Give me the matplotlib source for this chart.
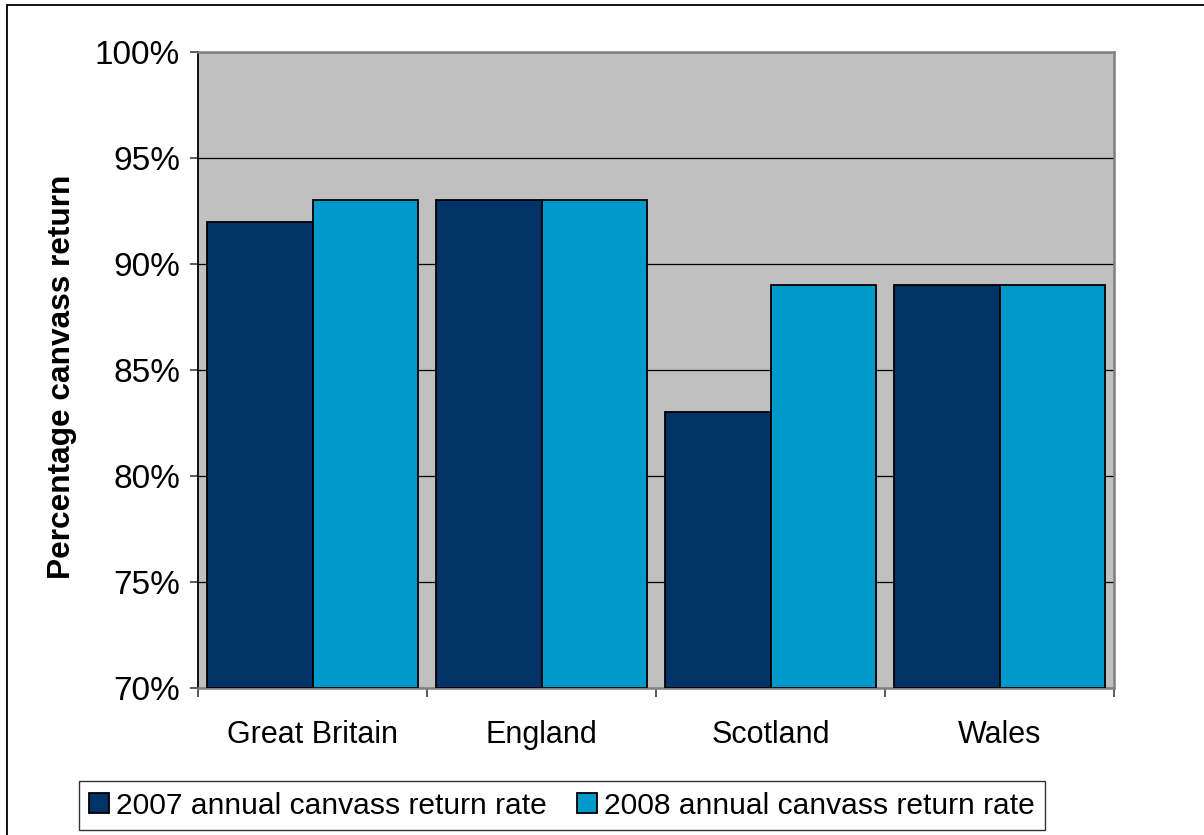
import matplotlib
matplotlib.use("Agg")
import matplotlib.pyplot as plt
from matplotlib.patches import Rectangle
from matplotlib.ticker import FixedLocator, FuncFormatter
import numpy as np

plt.rcParams['font.family'] = ['Liberation Sans', 'DejaVu Sans']

regions = ["Great Britain", "England", "Scotland", "Wales"]
rate_2007 = [92, 93, 83, 89]
rate_2008 = [93, 93, 89, 89]
series_labels = ["2007 annual canvass return rate", "2008 annual canvass return rate"]
y_ticks = [70, 75, 80, 85, 90, 95, 100]

W, H = 1204, 835
fig = plt.figure(figsize=(W / 100, H / 100), dpi=100)

# outer chart frame (left and top edges visible)
fig.patches.append(Rectangle((7 / W, -0.1), 1.2, 1 - 5 / H + 0.1,
                             transform=fig.transFigure, fill=False,
                             edgecolor='black', linewidth=1.3))

ax = fig.add_axes([198 / W, 1 - 688 / H, (1114 - 198) / W, (688 - 52) / H])
ax.set_facecolor('#C0C0C0')

x = np.arange(len(regions))
bw = 0.46
base = 70
ax.bar(x - bw / 2, np.array(rate_2007) - base, bw, bottom=base, color='#003366',
       edgecolor='black', linewidth=1.3, label=series_labels[0], zorder=3)
ax.bar(x + bw / 2, np.array(rate_2008) - base, bw, bottom=base, color='#0099CC',
       edgecolor='black', linewidth=1.3, label=series_labels[1], zorder=3)

ax.set_xlim(-0.5, len(regions) - 0.5)
ax.set_ylim(70, 100)
ax.yaxis.set_major_locator(FixedLocator(y_ticks))
ax.yaxis.set_major_formatter(FuncFormatter(lambda v, p: f"{int(v)}%"))
ax.grid(axis='y', color='black', linewidth=0.9, zorder=1)
ax.set_axisbelow(True)

# category labels centered, ticks at category boundaries
ax.set_xticks(x)
ax.set_xticklabels(regions)
ax.tick_params(axis='x', length=0, labelsize=22, pad=23)
ax.set_xticks(np.arange(len(regions) + 1) - 0.5, minor=True)
ax.tick_params(axis='x', which='minor', length=6.5, width=1.2, color='#404040', direction='out')
ax.tick_params(axis='y', length=5.8, width=1.2, labelsize=24, pad=7, color='#404040')

for side in ['top', 'right', 'bottom']:
    ax.spines[side].set_color('#808080')
    ax.spines[side].set_linewidth(1.8)
ax.spines['left'].set_color('black')
ax.spines['left'].set_linewidth(1.3)

ax.set_ylabel("Percentage canvass return", fontsize=22.8, fontweight='bold')
ax.yaxis.set_label_coords(-(198 - 77) / (1114 - 198), 0.49)

leg = fig.legend(loc='center', bbox_to_anchor=(562 / W, 1 - 805.5 / H), ncol=2,
                 fontsize=21.6, frameon=True, fancybox=False, edgecolor='black',
                 handlelength=0.65, handleheight=0.65, handletextpad=0.25,
                 columnspacing=1.0, borderpad=0.35, borderaxespad=0)
leg.get_frame().set_linewidth(1.0)

fig.savefig("out.png", dpi=100, facecolor='white')
